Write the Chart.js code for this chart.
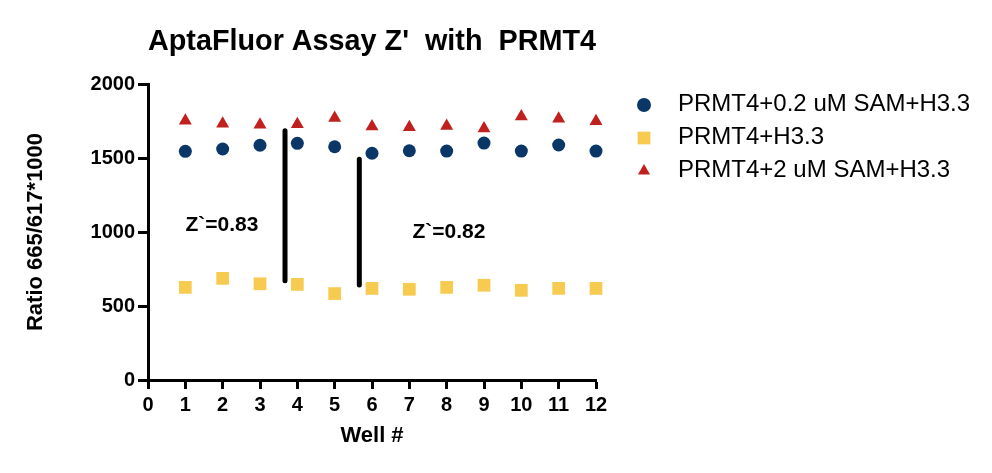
<!DOCTYPE html>
<html>
<head>
<meta charset="utf-8">
<script src="https://cdn.jsdelivr.net/npm/chart.js@4/dist/chart.umd.min.js"></script>
<style>
  html, body { margin: 0; padding: 0; background: #fff; }
  #wrap { width: 992px; height: 473px; position: relative; }
</style>
</head>
<body>
<div id="wrap"><canvas id="zChart" width="992" height="473"></canvas></div>
<script>
// Well numbers and readings (Ratio 665/617*1000)
const wells = [1, 2, 3, 4, 5, 6, 7, 8, 9, 10, 11, 12];
const lowSam = [1545, 1561, 1586, 1599, 1576, 1532, 1549, 1547, 1601, 1547, 1588, 1547];
const noSam = [626, 687, 650, 646, 584, 619, 613, 626, 640, 606, 619, 619];
const highSam = [1751, 1731, 1725, 1728, 1770, 1713, 1707, 1716, 1700, 1781, 1765, 1748];

const seriesNames = ['PRMT4+0.2 uM SAM+H3.3', 'PRMT4+H3.3', 'PRMT4+2 uM SAM+H3.3'];

// separation bars drawn between the bands
const bar1X = [3.67, 3.67];
const bar1Y = [1684, 671];
const bar2X = [5.66, 5.66];
const bar2Y = [1491, 642];

// Z' labels (data space)
const zLabels = ['Z`=0.83', 'Z`=0.82'];
const zLabelX = [1.98, 8.06];
const zLabelY = [1047, 1000];

const yTicks = [0, 500, 1000, 1500, 2000];

const toPoints = (xs, ys) => xs.map((x, i) => ({ x: x, y: ys[i] }));

// Z' text labels
const zLabelPlugin = {
    id: 'zLabels',
    afterDatasetsDraw(chart) {
        const ctx = chart.ctx;
        const xs = chart.scales.x, ys = chart.scales.y;
        ctx.save();
        ctx.font = 'bold 21px "Liberation Sans", Arial, sans-serif';
        ctx.fillStyle = '#000';
        ctx.textAlign = 'center';
        ctx.textBaseline = 'middle';
        zLabels.forEach(function (t, i) {
            ctx.fillText(t, xs.getPixelForValue(zLabelX[i]), ys.getPixelForValue(zLabelY[i]));
        });
        ctx.restore();
    }
};

// legend on the right, drawn with the datasets' own point styles
const sideLegend = {
    id: 'sideLegend',
    afterDraw(chart) {
        const ctx = chart.ctx;
        const area = chart.chartArea;
        const mx = area.right + 48;
        const tx = area.right + 82;
        ctx.save();
        ctx.font = '24px "Liberation Sans", Arial, sans-serif';
        ctx.textBaseline = 'middle';
        ctx.textAlign = 'left';
        seriesNames.forEach(function (name, i) {
            const ds = chart.data.datasets[i];
            const cy = area.top + 21 + i * 33;
            const r = ds.pointStyle === 'rect' ? 9 : 7;
            ctx.fillStyle = ds.backgroundColor;
            Chart.helpers.drawPoint(ctx, { pointStyle: ds.pointStyle, radius: r, rotation: 0, borderWidth: 0 }, mx, cy);
            ctx.fillStyle = '#000';
            ctx.fillText(name, tx, cy - 1);
        });
        ctx.restore();
    }
};

const tickFont = { family: '"Liberation Sans", Arial, sans-serif', size: 20, weight: 'bold' };
const titleFont = { family: '"Liberation Sans", Arial, sans-serif', size: 22, weight: 'bold' };

new Chart(document.getElementById('zChart').getContext('2d'), {
    type: 'scatter',
    data: {
        datasets: [
            { label: seriesNames[0], data: toPoints(wells, lowSam), pointStyle: 'circle', pointRadius: 6.5,
              backgroundColor: '#0a3767', borderColor: '#0a3767', borderWidth: 0 },
            { label: seriesNames[1], data: toPoints(wells, noSam), pointStyle: 'rect', pointRadius: 9,
              backgroundColor: '#f6cb50', borderColor: '#f6cb50', borderWidth: 0 },
            { label: seriesNames[2], data: toPoints(wells, highSam), pointStyle: 'triangle', pointRadius: 7.5,
              backgroundColor: '#c0201e', borderColor: '#c0201e', borderWidth: 0 },
            { label: 'bar1', data: toPoints(bar1X, bar1Y), showLine: true, pointRadius: 0,
              borderColor: '#000', borderWidth: 5, borderCapStyle: 'round' },
            { label: 'bar2', data: toPoints(bar2X, bar2Y), showLine: true, pointRadius: 0,
              borderColor: '#000', borderWidth: 5, borderCapStyle: 'round' }
        ]
    },
    options: {
        responsive: false,
        animation: false,
        clip: false,
        layout: { padding: { left: 0, right: 396, top: 0, bottom: 0 } },
        plugins: {
            legend: { display: false },
            tooltip: { enabled: false },
            title: {
                display: true,
                text: "AptaFluor Assay Z'  with  PRMT4",
                fullSize: false,
                color: '#000',
                font: { family: '"Liberation Sans", Arial, sans-serif', size: 29, weight: 'bold' },
                padding: { top: 25, bottom: 24.2 }
            }
        },
        scales: {
            x: {
                type: 'linear',
                min: 0,
                max: 12,
                afterFit: function (scale) { scale.height = 93; },
                ticks: { stepSize: 1, color: '#000', font: tickFont, padding: 4, maxRotation: 0, autoSkip: false },
                grid: { drawOnChartArea: false, tickLength: 9, tickWidth: 3, tickColor: '#000' },
                border: { color: '#000', width: 3 },
                title: { display: true, text: 'Well #', color: '#000', font: titleFont, padding: { top: 0, bottom: 24 } }
            },
            y: {
                min: 0,
                max: 2000,
                afterFit: function (scale) { scale.width = 148; },
                afterBuildTicks: function (scale) { scale.ticks = yTicks.map(v => ({ value: v })); },
                ticks: { color: '#000', font: tickFont, padding: 3, callback: v => String(v) },
                grid: { drawOnChartArea: false, tickLength: 10, tickWidth: 3, tickColor: '#000' },
                border: { color: '#000', width: 3 },
                title: { display: true, text: 'Ratio 665/617*1000', color: '#000', font: titleFont, padding: { top: 23, bottom: 0 } }
            }
        }
    },
    plugins: [zLabelPlugin, sideLegend]
});
</script>
</body>
</html>
